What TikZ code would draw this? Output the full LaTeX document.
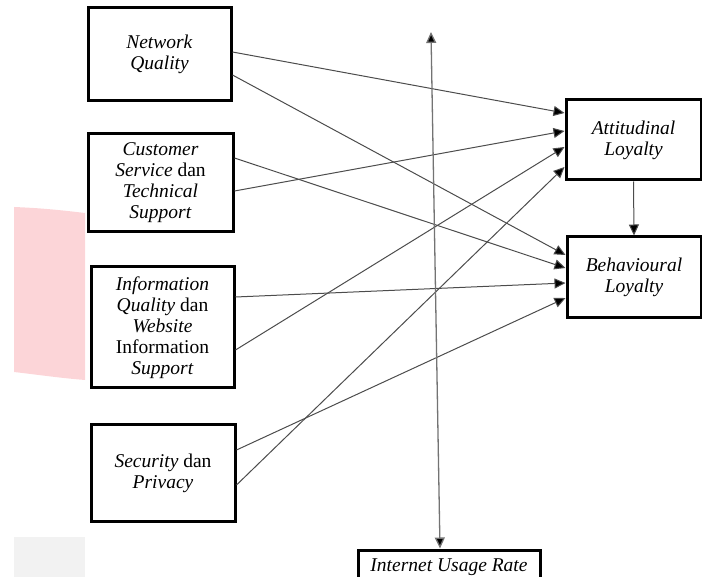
\documentclass[tikz,border=0pt]{standalone}
\usepackage{fontspec}
\setmainfont{Liberation Serif}
\usetikzlibrary{arrows.meta}
\definecolor{wmpink}{RGB}{252,213,216}
\definecolor{wmgray}{RGB}{242,242,242}
\begin{document}
\begin{tikzpicture}[x=1pt,y=-1pt,
  box/.style={draw=black,line width=3pt,align=center,inner sep=0pt,
    font=\fontsize{19.5}{21}\selectfont},
  link/.style={draw=black!70,line width=1pt,-{Triangle[length=11pt,width=10pt,fill=black]}},
  dbl/.style={draw=black!55,line width=1.3pt,{Triangle[length=11pt,width=10pt,fill=black]}-{Triangle[length=11pt,width=10pt,fill=black]}}]
\useasboundingbox (0,0) rectangle (702,577);
% watermark remnants
\fill[wmpink] (14,207) .. controls (40,208) and (60,210) .. (85,213) -- (85,380) .. controls (60,378) and (40,375) .. (14,372) -- cycle;
\fill[wmgray] (14,537) rectangle (85,577);
% nodes
\node[box,minimum width=143pt,minimum height=93pt] (nq) at (159.5,54.5) {\textit{Network}\\\textit{Quality}};
\node[box,minimum width=145pt,minimum height=98pt] (cs) at (160.5,183) {\textit{Customer}\\\textit{Service} dan\\\textit{Technical}\\\textit{Support}};
\node[box,minimum width=143pt,minimum height=121pt] (iq) at (162.5,327.5) {\textit{Information}\\\textit{Quality} dan\\\textit{Website}\\Information\\\textit{Support}};
\node[box,minimum width=144pt,minimum height=96pt] (sp) at (163,473) {\textit{Security} dan\\\textit{Privacy}};
\node[box,minimum width=135pt,minimum height=80pt] (att) at (633.5,140) {\textit{Attitudinal}\\\textit{Loyalty}};
\node[box,minimum width=134pt,minimum height=81pt] (beh) at (634,277.5) {\textit{Behavioural}\\\textit{Loyalty}};
\node[box,minimum width=182pt,minimum height=34pt] (iur) at (449,567) {\textit{Internet Usage Rate}};
\coordinate (top) at (431,32);
% connectors
\draw[link] (nq.east |- 0,52) -- (att.west |- 0,113);
\draw[link] (nq.east |- 0,75) -- (beh.west |- 0,255);
\draw[link] (cs.east |- 0,158) -- (beh.west |- 0,268);
\draw[link] (cs.east |- 0,191) -- (att.west |- 0,131);
\draw[link] (iq.east |- 0,297) -- (beh.west |- 0,283);
\draw[link] (iq.east |- 0,350) -- (att.west |- 0,147);
\draw[link] (sp.east |- 0,450) -- (beh.west |- 0,298);
\draw[link] (sp.east |- 0,485) -- (att.west |- 0,167);
\draw[link] (att.south) -- (beh.north);
\draw[dbl] (top) -- (iur.north -| 440,0);
\end{tikzpicture}
\end{document}
